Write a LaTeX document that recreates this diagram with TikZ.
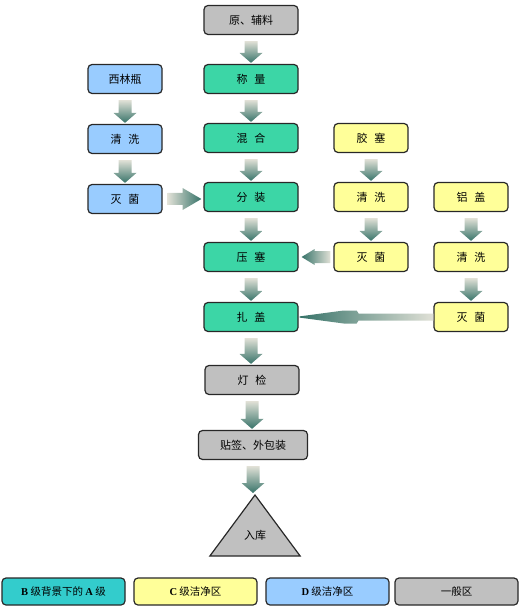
\documentclass[tikz,border=0pt]{standalone}
\usepackage{fontspec}
\setmainfont{Liberation Serif}
\newfontfamily\cjk{Noto Sans CJK SC}
\newcommand\lat[1]{{\rmfamily\bfseries #1}}
\usetikzlibrary{calc,shapes.geometric}
\definecolor{cgreen}{RGB}{60,214,166}
\definecolor{ccyan}{RGB}{51,204,204}
\definecolor{cyellow}{RGB}{255,255,153}
\definecolor{cblue}{RGB}{153,204,255}
\definecolor{cgray}{RGB}{192,192,192}
\definecolor{cborder}{RGB}{40,40,40}
\definecolor{adark}{RGB}{55,115,105}
\definecolor{alight}{RGB}{225,225,215}
\tikzset{
  box/.style={draw=cborder, line width=1.2pt, rounded corners=4pt, minimum width=94pt, minimum height=29pt, inner sep=0pt, font=\cjk\fontsize{11}{13}\selectfont},
  gbox/.style={box, fill=cgreen},
  ybox/.style={box, fill=cyellow, minimum width=74pt},
  bbox/.style={box, fill=cblue, minimum width=74pt},
  graybox/.style={box, fill=cgray},
  legbox/.style={box, minimum width=123pt, minimum height=27pt, font=\cjk\fontsize{10.5}{12}\selectfont},
  varrow/.style={top color=alight, bottom color=adark},
  harrowR/.style={left color=alight, right color=adark},
  harrowL/.style={left color=adark, right color=alight},
}
\newcommand\vblk[2]{%
  \path[varrow] let \p1=(#1.south), \p2=(#2.north) in
   (\x1-6.5pt,\y1-6pt) -- (\x1+6.5pt,\y1-6pt) -- (\x1+6.5pt,\y2+11pt) -- (\x1+11.5pt,\y2+11pt)
   -- (\x1,\y2+1pt) -- (\x1-11.5pt,\y2+11pt) -- (\x1-6.5pt,\y2+11pt) -- cycle;}
\begin{document}
\begin{tikzpicture}[x=1pt,y=-1pt]
\useasboundingbox (0,0) rectangle (520,609);
% main column
\node[graybox] (raw) at (251,20) {原、辅料};
\node[gbox] (weigh) at (251,79) {称\hspace{0.6em}量};
\node[gbox] (mix) at (251,138) {混\hspace{0.6em}合};
\node[gbox] (fill) at (251,197) {分\hspace{0.6em}装};
\node[gbox] (stop) at (251,257) {压\hspace{0.6em}塞};
\node[gbox] (cap) at (251,317) {扎\hspace{0.6em}盖};
\node[graybox] (insp) at (252,380) {灯\hspace{0.6em}检};
\node[graybox, minimum width=109pt] (pack) at (253,445) {贴签、外包装};
\node[draw=cborder, line width=1.2pt, fill=cgray, isosceles triangle, isosceles triangle apex angle=73, shape border rotate=90, minimum height=61pt, inner sep=0pt, anchor=north] (store) at (255,494) {};
\node[font=\cjk\fontsize{11}{13}\selectfont] (storet) at (255,535) {入库};
% left column
\node[bbox] (vial) at (125,79) {西林瓶};
\node[bbox] (vwash) at (125,139) {清\hspace{0.6em}洗};
\node[bbox] (vster) at (125,199) {灭\hspace{0.6em}菌};
% rubber stopper column
\node[ybox] (rub) at (371,138) {胶\hspace{0.6em}塞};
\node[ybox] (rwash) at (371,197) {清\hspace{0.6em}洗};
\node[ybox] (rster) at (371,257) {灭\hspace{0.6em}菌};
% aluminium cap column
\node[ybox] (al) at (471,197) {铝\hspace{0.6em}盖};
\node[ybox] (awash) at (471,257) {清\hspace{0.6em}洗};
\node[ybox] (aster) at (471,317) {灭\hspace{0.6em}菌};
% vertical arrows
\vblk{raw}{weigh}
\vblk{weigh}{mix}
\vblk{mix}{fill}
\vblk{fill}{stop}
\vblk{stop}{cap}
\vblk{cap}{insp}
\vblk{insp}{pack}
\vblk{pack}{store}
\vblk{vial}{vwash}
\vblk{vwash}{vster}
\vblk{rub}{rwash}
\vblk{rwash}{rster}
\vblk{al}{awash}
\vblk{awash}{aster}
% horizontal arrows
\path[harrowR] let \p1=(vster.east), \p2=(fill.west) in
  (\x1+5pt,\y1+6pt) -- (\x1+20pt,\y1+6pt) -- (\x1+20pt,\y1+11pt) -- (\x2-2pt,\y1)
  -- (\x1+20pt,\y1-11pt) -- (\x1+20pt,\y1-6pt) -- (\x1+5pt,\y1-6pt) -- cycle;
\path[harrowL] let \p1=(rster.west), \p2=(stop.east) in
  (\x1-3pt,\y1+6pt) -- (\x2+16pt,\y1+6pt) -- (\x2+16pt,\y1+8pt) -- (\x2+3pt,\y1)
  -- (\x2+16pt,\y1-8pt) -- (\x2+16pt,\y1-6pt) -- (\x1-3pt,\y1-6pt) -- cycle;
\path[harrowL] let \p1=(aster.west), \p2=(cap.east) in
  (\x1,\y1+3.5pt) -- (\x2+60pt,\y1+3.5pt) -- (\x2+58pt,\y1+6.5pt) -- (\x2+45pt,\y1+6.5pt)
  -- (\x2+1pt,\y1+0.6pt) -- (\x2+1pt,\y1-0.6pt) -- (\x2+45pt,\y1-6.5pt) -- (\x2+58pt,\y1-6.5pt)
  -- (\x2+60pt,\y1-3.5pt) -- (\x1,\y1-3.5pt) -- cycle;
% legend
\node[legbox, fill=ccyan] (lg1) at (63.5,591.5) {\lat{B} 级背景下的 \lat{A} 级};
\node[legbox, fill=cyellow] (lg2) at (195.5,591.5) {\lat{C} 级洁净区};
\node[legbox, fill=cblue] (lg3) at (327.5,591.5) {\lat{D} 级洁净区};
\node[legbox, fill=cgray] (lg4) at (456.5,591.5) {一般区};
\end{tikzpicture}
\end{document}
